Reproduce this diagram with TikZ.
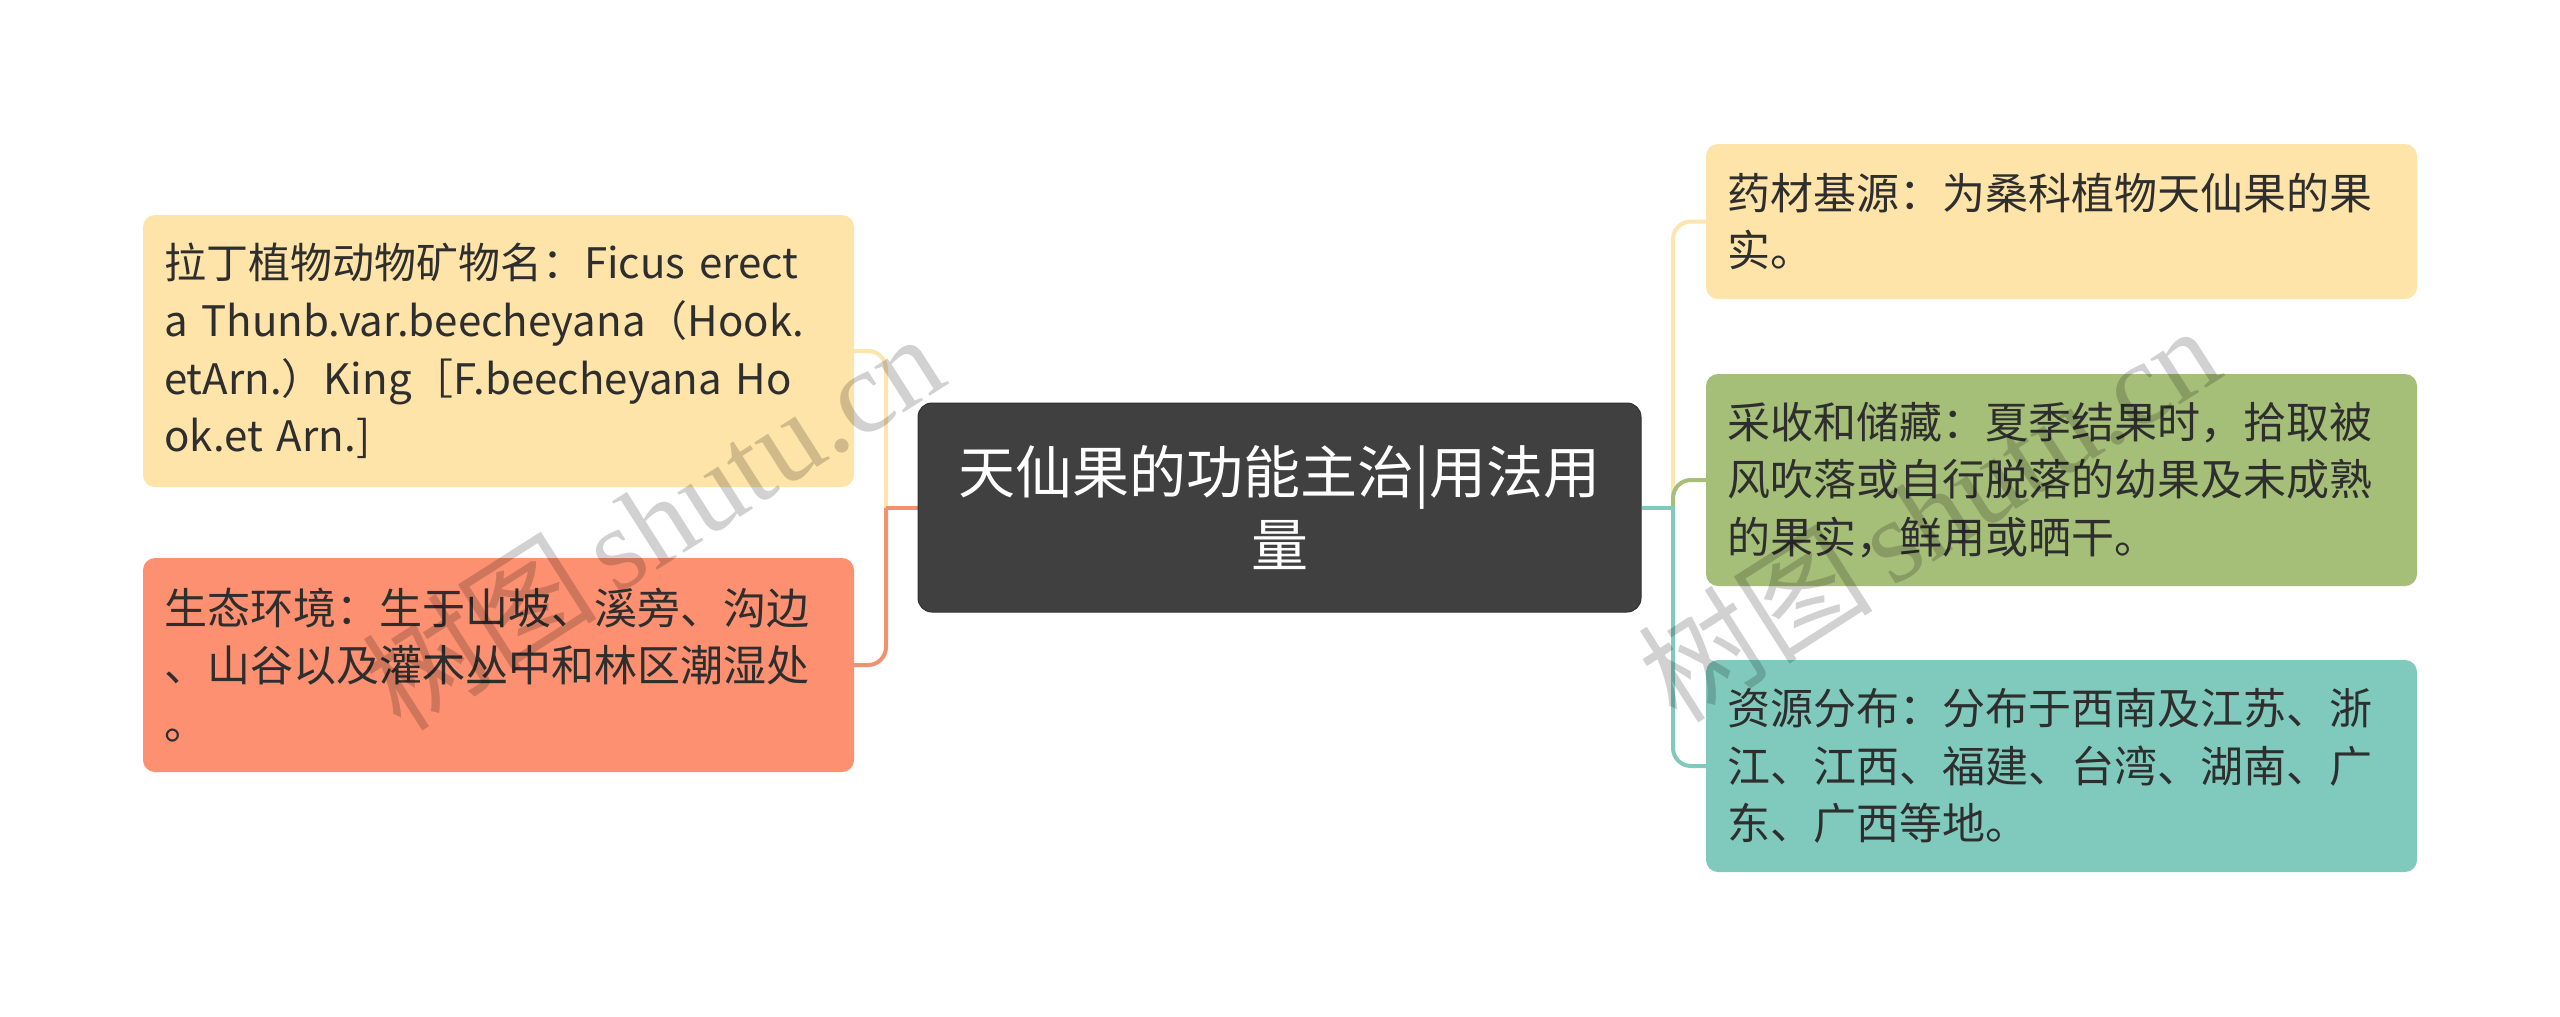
\documentclass[tikz,border=0pt]{standalone}
\usepackage{fontspec}
\usetikzlibrary{backgrounds}
\setmainfont{Noto Sans CJK SC}
\newfontfamily\cjk{Noto Sans CJK SC}
\newfontfamily\wmserif{Liberation Serif}
\definecolor{yelfill}{HTML}{FEE4A9}
\definecolor{salfill}{HTML}{FC9070}
\definecolor{grnfill}{HTML}{A5BE78}
\definecolor{teafill}{HTML}{80CABD}
\definecolor{ctrfill}{HTML}{404040}
\definecolor{ctrdraw}{HTML}{303030}
\definecolor{txt}{HTML}{2E2E2E}
\definecolor{yelline}{HTML}{FDE5AE}
\definecolor{salline}{HTML}{F2906F}
\definecolor{grnline}{HTML}{A5BE78}
\definecolor{tealine}{HTML}{80CABD}
\begin{document}
\begin{tikzpicture}[x=1pt,y=-1pt,
  topicbox/.style={rounded corners=12pt, inner sep=0pt, align=left, text=txt,
    minimum width=711pt, text width=669pt,
    font=\fontsize{43}{57.6}\selectfont},
  latinbox/.style={topicbox, font=\fontsize{42}{57.6}\selectfont},
  centerbox/.style={rounded corners=14pt, inner sep=0pt, align=center, text=white,
    fill=ctrfill, draw=ctrdraw, line width=1pt,
    minimum width=723pt, minimum height=209pt, text width=690pt,
    font=\fontsize{57}{73}\selectfont},
  straightline/.style={line width=4pt},
  elbowline/.style={line width=4pt, rounded corners=18pt},
  wm/.style={text=black, opacity=0.18, rotate=32.5, font=\fontsize{118}{120}\selectfont}
]
\useasboundingbox (0,0) rectangle (2560,1017);

% junction points
\coordinate (lj) at (886,507.5);
\coordinate (rj) at (1673,507.5);

% nodes
\node[centerbox] (c) at (1279.5,507.5) {天仙果的功能主治|用法用\\量};

\node[latinbox, fill=yelfill, minimum height=272pt] (l1) at (498.5,351)
  {拉丁植物动物矿物名：Ficus erect\\a Thunb.var.beecheyana（Hook.\\etArn.）King［F.beecheyana Ho\\ok.et Arn.]};
\node[topicbox, fill=salfill, minimum height=214pt] (l2) at (498.5,665)
  {生态环境：生于山坡、溪旁、沟边\\、山谷以及灌木丛中和林区潮湿处\\。};

\node[topicbox, fill=yelfill, minimum height=155pt] (r1) at (2061.5,221.5)
  {药材基源：为桑科植物天仙果的果\\实。};
\node[topicbox, fill=grnfill, minimum height=212pt] (r2) at (2061.5,480)
  {采收和储藏：夏季结果时，拾取被\\风吹落或自行脱落的幼果及未成熟\\的果实，鲜用或晒干。};
\node[topicbox, fill=teafill, minimum height=212pt] (r3) at (2061.5,766)
  {资源分布：分布于西南及江苏、浙\\江、江西、福建、台湾、湖南、广\\东、广西等地。};

% connectors
\begin{scope}[on background layer]
\fill[white] (0,0) rectangle (2560,1017);
\draw[elbowline, yelline] (lj) |- (l1.east);
\draw[elbowline, salline] (lj) |- (l2.east);
\draw[straightline, salline] (c.west) -- (lj);

\draw[elbowline, yelline] (rj) |- (r1.west);
\draw[elbowline, grnline] (rj) |- (r2.west);
\draw[elbowline, tealine] (rj) |- (r3.west);
\draw[straightline, tealine] (c.east) -- (rj);
\end{scope}

% watermarks
\node[wm] (w1) at (652,520) {\cjk 树图\,\wmserif shutu.cn};
\node[wm] (w2) at (1928,512) {\cjk 树图\,\wmserif shutu.cn};
\end{tikzpicture}
\end{document}
